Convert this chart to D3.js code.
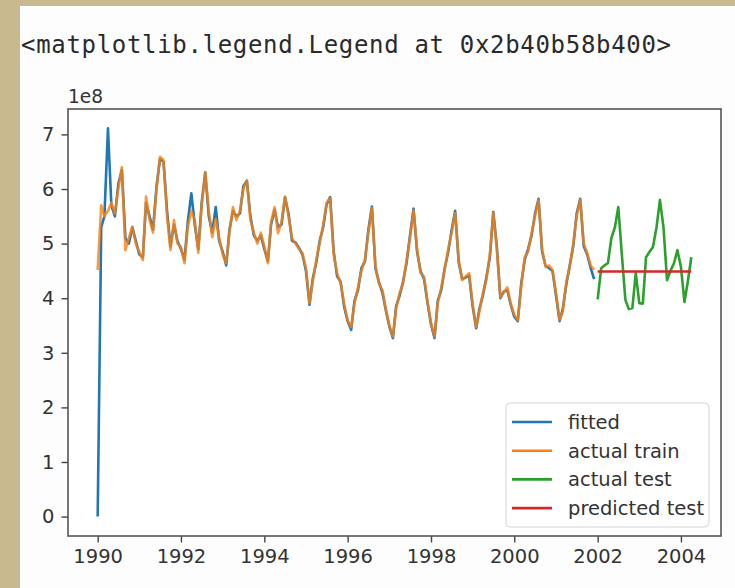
<!DOCTYPE html>
<html>
<head>
<meta charset="utf-8">
<script src="https://cdn.jsdelivr.net/npm/d3@7"></script>
<style>
  html, body { margin: 0; padding: 0; background: #fff; }
  svg { display: block; }
</style>
</head>
<body>
<div id="chart"></div>
<script>
// values in units of 1e8, monthly
var trainStart = [1990, 0],   // Jan 1990
    testStart = [2002, 0];    // Jan 2002

var actualTrain = [
  4.52, 5.70, 5.50, 5.60, 5.75, 5.55, 6.00, 6.40, 4.88, 5.10, 5.31, 5.00,
  4.85, 4.70, 5.86, 5.43, 5.20, 6.00, 6.59, 6.53, 5.50, 4.88, 5.43, 5.00,
  4.94, 4.64, 5.30, 5.60, 5.43, 4.83, 5.70, 6.31, 5.60, 5.12, 5.45, 5.10,
  4.80, 4.64, 5.20, 5.67, 5.43, 5.60, 6.00, 6.16, 5.43, 5.20, 5.00, 5.20,
  4.95, 4.64, 5.40, 5.67, 5.19, 5.40, 5.86, 5.50, 5.10, 5.00, 4.90, 4.83,
  4.55, 3.91, 4.30, 4.70, 5.00, 5.35, 5.75, 5.83, 4.80, 4.46, 4.27, 3.90,
  3.60, 3.47, 3.90, 4.20, 4.50, 4.70, 5.20, 5.65, 4.60, 4.27, 4.15, 3.80,
  3.50, 3.29, 3.80, 4.10, 4.27, 4.70, 5.10, 5.61, 4.90, 4.46, 4.40, 3.95,
  3.55, 3.29, 3.90, 4.20, 4.52, 4.90, 5.20, 5.56, 4.70, 4.33, 4.40, 4.46,
  3.90, 3.47, 3.75, 4.10, 4.33, 4.80, 5.56, 4.90, 4.02, 4.10, 4.20, 3.90,
  3.70, 3.60, 4.20, 4.75, 4.85, 5.20, 5.50, 5.80, 4.90, 4.57, 4.60, 4.52,
  4.10, 3.60, 3.75, 4.30, 4.57, 5.00, 5.50, 5.80, 5.00, 4.83, 4.60, 4.52
];

var fitted = [
  0.00, 5.30, 5.50, 7.11, 5.70, 5.50, 6.10, 6.35, 5.10, 5.00, 5.30, 5.05,
  4.80, 4.75, 5.75, 5.50, 5.25, 6.05, 6.55, 6.50, 5.60, 4.95, 5.35, 5.05,
  4.90, 4.70, 5.40, 5.92, 5.35, 4.90, 5.75, 6.30, 5.50, 5.20, 5.67, 5.05,
  4.85, 4.60, 5.25, 5.60, 5.50, 5.55, 6.05, 6.15, 5.50, 5.15, 5.05, 5.15,
  4.90, 4.68, 5.35, 5.62, 5.30, 5.35, 5.85, 5.55, 5.05, 5.02, 4.92, 4.80,
  4.50, 3.88, 4.35, 4.65, 5.05, 5.30, 5.72, 5.85, 4.85, 4.40, 4.30, 3.85,
  3.58, 3.42, 3.95, 4.15, 4.55, 4.68, 5.25, 5.68, 4.55, 4.30, 4.10, 3.78,
  3.48, 3.27, 3.85, 4.05, 4.30, 4.65, 5.15, 5.64, 4.85, 4.50, 4.35, 3.92,
  3.52, 3.27, 3.95, 4.15, 4.55, 4.85, 5.25, 5.60, 4.65, 4.35, 4.38, 4.42,
  3.85, 3.45, 3.80, 4.05, 4.38, 4.75, 5.58, 4.95, 4.00, 4.12, 4.15, 3.88,
  3.66, 3.58, 4.25, 4.70, 4.90, 5.15, 5.55, 5.82, 4.85, 4.60, 4.55, 4.50,
  4.05, 3.58, 3.80, 4.25, 4.60, 4.95, 5.55, 5.82, 4.95, 4.80, 4.55, 4.35
];

var actualTest = [
  3.98, 4.55, 4.60, 4.64, 5.10, 5.30, 5.67, 4.80, 3.97, 3.80, 3.82, 4.46,
  3.91, 3.90, 4.75, 4.85, 4.94, 5.30, 5.80, 5.30, 4.33, 4.50, 4.64, 4.88,
  4.57, 3.93, 4.30, 4.75
];

var predictedTest = [
  4.49, 4.49, 4.49, 4.49, 4.49, 4.49, 4.49, 4.49, 4.49, 4.49, 4.49, 4.49,
  4.49, 4.49, 4.49, 4.49, 4.49, 4.49, 4.49, 4.49, 4.49, 4.49, 4.49, 4.49,
  4.49, 4.49, 4.49, 4.49
];

var yTicks = [0, 1, 2, 3, 4, 5, 6, 7];
var xTickYears = [1990, 1992, 1994, 1996, 1998, 2000, 2002, 2004];
var seriesNames = ["fitted", "actual train", "actual test", "predicted test"];
var seriesColors = ["#1f77b4", "#ff7f0e", "#2ca02c", "#d62728"];

(function () {
    'use strict';
    var W = 735, H = 588,
        box = {left: 68, right: 721, top: 109, bottom: 536},
        fontTick = "19.5px",
        svg = d3.select("#chart").append("svg")
            .attr("width", W)
            .attr("height", H);

    function toSeries(start, vals) {
        return vals.map(function (v, i) {
            return {date: new Date(start[0], start[1] + i, 1), value: v};
        });
    }

    var series = [
        toSeries(trainStart, fitted),
        toSeries(trainStart, actualTrain),
        toSeries(testStart, actualTest),
        toSeries(testStart, predictedTest)
    ];

    // screenshot frame
    svg.append("rect").attr("width", W).attr("height", H).attr("fill", "#c9b98e");
    svg.append("rect").attr("x", 20).attr("y", 6)
        .attr("width", W - 20).attr("height", H - 6).attr("fill", "#fdfdfd");

    svg.append("text")
        .attr("x", 21).attr("y", 53)
        .attr("textLength", 650)
        .style("font-family", "'DejaVu Sans Mono', monospace")
        .style("font-size", "24px")
        .style("fill", "#2a2a2a")
        .text("<matplotlib.legend.Legend at 0x2b40b58b400>");

    // matplotlib-style 5% margins
    var all = d3.merge(series),
        xExt = d3.extent(all, function (d) { return d.date; }),
        yExt = d3.extent(all, function (d) { return d.value; }),
        xPad = (xExt[1] - xExt[0]) * 0.05,
        yPad = (yExt[1] - yExt[0]) * 0.05;

    var x = d3.scaleTime()
        .domain([new Date(+xExt[0] - xPad), new Date(+xExt[1] + xPad)])
        .range([box.left, box.right]);
    var y = d3.scaleLinear()
        .domain([yExt[0] - yPad, yExt[1] + yPad])
        .range([box.bottom, box.top]);

    svg.append("rect")
        .attr("x", box.left).attr("y", box.top)
        .attr("width", box.right - box.left)
        .attr("height", box.bottom - box.top)
        .attr("fill", "#fff");

    var line = d3.line()
        .x(function (d) { return x(d.date); })
        .y(function (d) { return y(d.value); });

    var plot = svg.append("g");
    series.forEach(function (s, i) {
        plot.append("path")
            .datum(s)
            .attr("d", line)
            .attr("fill", "none")
            .attr("stroke", seriesColors[i])
            .attr("stroke-opacity", i === 1 ? 0.8 : 1)
            .attr("stroke-width", 2.6)
            .attr("stroke-linejoin", "round");
    });

    var xAxis = svg.append("g")
        .attr("transform", "translate(0," + box.bottom + ")")
        .call(d3.axisBottom(x)
            .tickValues(xTickYears.map(function (yr) { return new Date(yr, 0, 1); }))
            .tickFormat(d3.timeFormat("%Y"))
            .tickSize(6.5).tickPadding(7));
    var yAxis = svg.append("g")
        .attr("transform", "translate(" + box.left + ",0)")
        .call(d3.axisLeft(y).tickValues(yTicks).tickFormat(d3.format("d"))
            .tickSize(6.5).tickPadding(7));

    [xAxis, yAxis].forEach(function (ax) {
        ax.select(".domain").remove();
        ax.selectAll(".tick line").attr("stroke", "#444").attr("stroke-width", 1.4);
        ax.selectAll(".tick text")
            .style("font-family", "'DejaVu Sans', sans-serif")
            .style("font-size", fontTick)
            .style("fill", "#333");
    });

    svg.append("rect")
        .attr("x", box.left).attr("y", box.top)
        .attr("width", box.right - box.left)
        .attr("height", box.bottom - box.top)
        .attr("fill", "none")
        .attr("stroke", "#555")
        .attr("stroke-width", 1.6);

    svg.append("text")
        .attr("x", box.left).attr("y", box.top - 6)
        .style("font-family", "'DejaVu Sans', sans-serif")
        .style("font-size", "18.6px")
        .style("fill", "#333")
        .text("1e8");

    // legend
    var lg = svg.append("g").attr("transform", "translate(506,403)");
    lg.append("rect")
        .attr("width", 203).attr("height", 124)
        .attr("rx", 4)
        .attr("fill", "#fff").attr("fill-opacity", 0.8)
        .attr("stroke", "#d4d4d4");
    var item = lg.selectAll("g.item")
        .data(seriesNames)
        .enter().append("g")
        .attr("class", "item")
        .attr("transform", function (d, i) { return "translate(0," + (19 + i * 28.7) + ")"; });
    item.append("line")
        .attr("x1", 6).attr("x2", 46)
        .attr("stroke", function (d, i) { return seriesColors[i]; })
        .attr("stroke-width", 2.6);
    item.append("text")
        .attr("x", 62).attr("dy", "0.35em")
        .style("font-family", "'DejaVu Sans', sans-serif")
        .style("font-size", fontTick)
        .style("fill", "#333")
        .text(function (d) { return d; });
}());
</script>
</body>
</html>
